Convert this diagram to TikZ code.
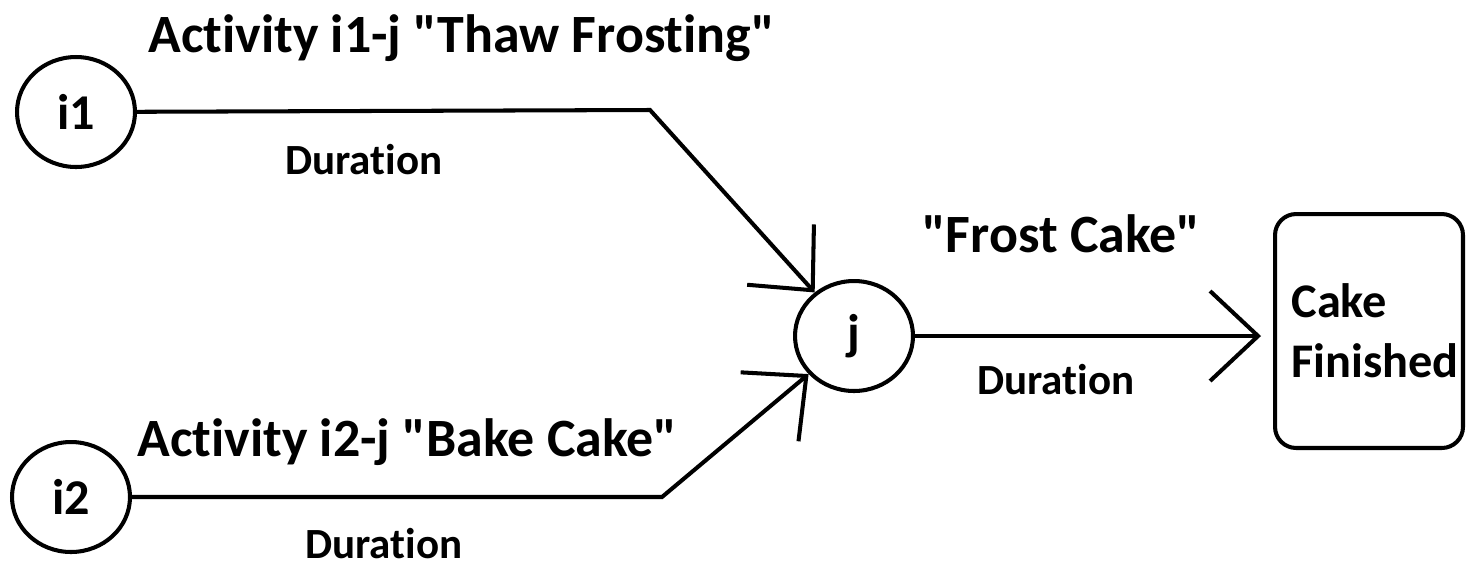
\documentclass[tikz,border=0pt]{standalone}
\usepackage{fontspec}
\setmainfont{Carlito}[Ligatures=NoCommon]
\usetikzlibrary{arrows.meta,positioning,shapes.geometric}
\newcommand{\qq}{\textquotedbl}
\tikzset{
  event/.style={ellipse, draw=black, line width=2.3pt, inner sep=0pt,
    minimum width=2.36cm, minimum height=2.2cm,
    font=\fontsize{28.5}{34}\selectfont\bfseries},
  finish/.style={rectangle, rounded corners=12pt, draw=black, line width=2.3pt,
    minimum width=3.76cm, minimum height=4.68cm, text width=3.1cm,
    inner xsep=0.33cm, align=left, font=\fontsize{27.5}{34}\selectfont\bfseries},
  act/.style={inner sep=0pt, anchor=base west, font=\fontsize{30.7}{36}\selectfont\bfseries},
  dur/.style={inner sep=0pt, anchor=base west, font=\fontsize{24.5}{29}\selectfont\bfseries},
  tr/.style={-{Straight Barb[length=0.96cm, width=1.8cm]}, draw=black, line width=2.3pt},
}
\begin{document}
\begin{tikzpicture}[x=0.02cm, y=-0.02cm]
  \useasboundingbox (0,0) rectangle (1466,566);
  \node[event] (i1) at (76,112) {i1};
  \node[event] (i2) at (71,497) {i2};
  \node[event] (j) at (854,336) {j};
  \node[finish] (fin) at (1369,331) {Cake\\Finished};
  \coordinate (b1) at (650,110);
  \coordinate (b2) at (662,497);
  \draw[tr] (i1) -- (b1) -- (j);
  \draw[tr] (i2) -- (b2) -- (j);
  \draw[tr, shorten >=0.24cm] (j) -- (j -| fin.west);
  \node[act] (a1) at (148,52) {Activity i1-j \qq Thaw Frosting\qq};
  \node[dur] (d1) at (285,174) {Duration};
  \node[act] (a2) at (137,456) {Activity i2-j \qq Bake Cake\qq};
  \node[dur] (d2) at (305,558) {Duration};
  \node[act] (a3) at (922,252) {\qq Frost Cake\qq};
  \node[dur] (d3) at (977,394) {Duration};
\end{tikzpicture}
\end{document}
